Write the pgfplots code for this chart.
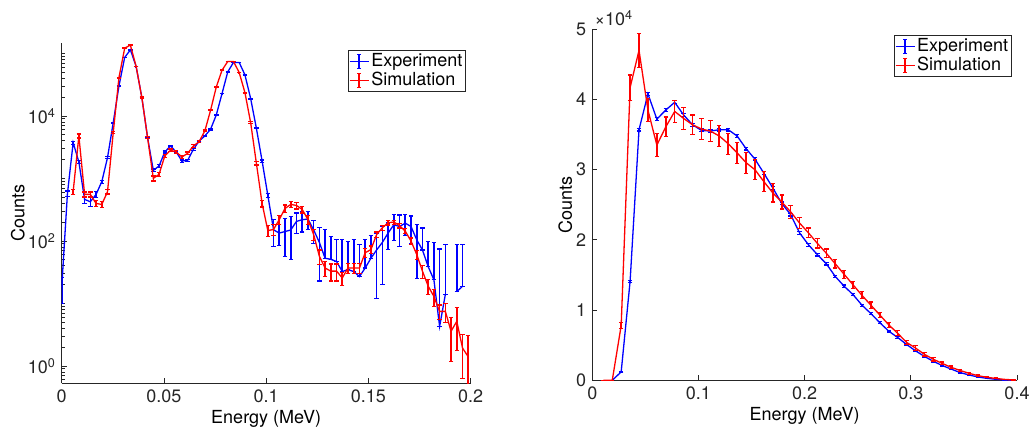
\documentclass[border=0pt]{standalone}
\usepackage{fontspec}
\setmainfont{TeX Gyre Heros}
\usepackage{pgfplots}
\pgfplotsset{compat=1.18}
\usepackage{pgfplotstable}

\pgfplotstableread{
x y ep em
0 18 8 8
0.0028 570 60 60
0.0056 3750 200 200
0.0084 1835 100 100
0.0112 463 60 60
0.014 425 70 70
0.0168 557 60 60
0.0196 889 50 50
0.0224 2154 80 80
0.0252 7830 150 150
0.028 30300 300 300
0.0308 86300 500 500
0.0336 114500 600 600
0.0364 61900 400 400
0.0392 19700 250 250
0.042 4510 120 120
0.0448 1350 70 70
0.0476 1585 70 70
0.0504 2655 90 90
0.0532 3313 100 100
0.056 2655 90 90
0.0588 1905 80 80
0.0616 1954 80 80
0.0644 2930 90 90
0.0672 3985 110 110
0.07 4795 120 120
0.0728 6130 140 140
0.0756 10400 180 180
0.0784 22850 250 250
0.0812 50850 350 350
0.084 71800 450 450
0.0868 71800 450 450
0.0896 45500 350 350
0.0924 19000 230 230
0.0952 6360 140 140
0.098 1905 80 80
0.1008 537 45 45
0.1036 151 70 70
0.1064 134 50 50
0.1092 142 85 85
0.112 150 100 100
0.1148 206 74 74
0.1176 219 80 80
0.1204 225 70 70
0.1232 151 60 60
0.126 95 72 72
0.1288 53 98 0
0.1316 51 67 0
0.1344 47 60 0
0.1372 32.5 72 0
0.14 35 63 0
0.1428 32.5 72 0
0.1456 27 60 0
0.1484 37 68 0
0.1512 53 70 0
0.154 72 60 60
0.1568 95 75 75
0.1596 134 60 60
0.1624 182 80 80
0.1652 171 90 90
0.168 193 70 70
0.1708 171 80 80
0.1736 105 80 80
0.1764 72 90 0
0.1792 39 60 0
0.182 24 70 0
0.1848 4.3 70 0
0.1876 14 75 0
0.1904 nan 0 0
0.1932 15.5 72 0
0.196 18.9 70 0
}\blueL

\pgfplotstableread{
x y ep em
0.0056 614 60 60
0.0084 4795 350 350
0.0112 557 50 50
0.014 557 50 50
0.0168 399 40 40
0.0196 385 40 40
0.0224 614 50 50
0.0252 5420 200 200
0.028 41200 600 600
0.0308 121700 1000 1000
0.0336 136000 1000 1000
0.0364 62000 700 700
0.0392 19700 400 400
0.042 4510 200 200
0.0448 1005 90 90
0.0476 1165 90 90
0.0504 2290 130 130
0.0532 2825 140 140
0.056 2655 140 140
0.0588 2208 130 130
0.0616 2530 130 130
0.0644 3313 150 150
0.0672 3890 160 160
0.07 5770 190 190
0.0728 12360 280 280
0.0756 29200 430 430
0.0784 54000 600 600
0.0812 74500 700 700
0.084 74500 700 700
0.0868 49600 580 580
0.0896 23700 400 400
0.0924 7830 230 230
0.0952 1750 110 110
0.098 399 50 50
0.1008 147 30 30
0.1036 153 30 30
0.1064 221 35 35
0.1092 332 45 45
0.112 385 45 45
0.1148 371 45 45
0.1176 320 40 40
0.1204 221 35 35
0.1232 127 25 25
0.126 57 15 15
0.1288 37 10 10
0.1316 33 10 10
0.1344 33 10 10
0.1372 25.7 6 6
0.14 37 7 7
0.1428 37 7 7
0.1456 37 7 7
0.1484 65 10 10
0.1512 73 10 10
0.154 127 12 12
0.1568 163 15 15
0.1596 196 15 15
0.1624 201 15 15
0.1652 177 15 15
0.168 144 13 13
0.1708 100 12 12
0.1736 61 10 10
0.1764 33 8 8
0.1792 19 5 5
0.182 13 4 4
0.1848 7.5 2 2
0.1876 7.5 2.5 2.5
0.1904 3.6 2.4 2.4
0.1932 5.2 3.4 3.4
0.196 1.94 1.3 1.3
0.1988 1.41 1.7 1.3
}\redL

\pgfplotstableread{
x y e
0.0188 0 0
0.0272 1200 100
0.0356 14100 150
0.044 35700 200
0.0524 40800 200
0.0608 37200 200
0.0692 38500 200
0.0776 39600 200
0.086 37800 200
0.0944 36400 200
0.1028 35600 200
0.1112 35500 200
0.1196 35700 200
0.128 35700 200
0.1364 34800 200
0.1448 33000 200
0.1532 31500 200
0.1616 29500 200
0.17 27400 200
0.1784 25200 200
0.1868 23600 200
0.1952 21000 200
0.2036 19300 200
0.212 17900 200
0.2204 16600 180
0.2288 14800 180
0.2372 13400 170
0.2456 12200 160
0.254 10700 150
0.2624 9500 150
0.2708 8200 140
0.2792 7000 130
0.2876 6100 120
0.296 5100 110
0.3044 4200 100
0.3128 3400 90
0.3212 2700 80
0.3296 2100 70
0.338 1600 60
0.3464 1100 50
0.3548 760 40
0.3632 470 30
0.3716 280 20
0.38 140 15
0.3884 50 10
0.3968 0 0
}\blueR

\pgfplotstableread{
x y e
0.0104 0 0
0.0188 0 0
0.0272 7800 450
0.0356 41700 1800
0.044 47000 2400
0.0524 38500 1600
0.0608 33500 1600
0.0692 36100 1400
0.0776 38300 1600
0.086 37300 1600
0.0944 36400 1400
0.1028 35800 1500
0.1112 35500 1500
0.1196 34800 1500
0.128 33700 1500
0.1364 32400 1500
0.1448 31000 1500
0.1532 30000 1400
0.1616 28300 1400
0.17 26700 1300
0.1784 25400 1000
0.1868 24000 900
0.1952 22400 800
0.2036 21000 700
0.212 19500 650
0.2204 18100 600
0.2288 16600 600
0.2372 15100 550
0.2456 13600 500
0.254 12100 500
0.2624 10700 450
0.2708 9300 400
0.2792 7900 350
0.2876 6700 350
0.296 5400 300
0.3044 4600 300
0.3128 3700 250
0.3212 3000 250
0.3296 2400 200
0.338 1850 180
0.3464 1400 150
0.3548 1000 130
0.3632 660 100
0.3716 430 80
0.38 260 60
0.3884 130 40
0.3968 50 20
}\redR

\definecolor{axgray}{gray}{0.15}
\definecolor{mblue}{RGB}{0,0,255}
\definecolor{mred}{RGB}{255,0,0}

\pgfplotsset{
  mstyle/.style={
    scale only axis,
    axis lines*=left,
    axis line style={axgray, line width=0.9pt},
    tick style={axgray, line width=0.9pt},
    tick align=inside,
    major tick length=5pt,
    minor tick length=3pt,
    ticklabel style={text=axgray},
    label style={text=axgray},
    every axis x label/.style={at={(rel axis cs:0.5,0)}, yshift=-36pt, anchor=center},
    legend cell align=left,
    legend style={draw=axgray, line width=0.9pt, inner sep=1pt, row sep=-1pt, text=black},
    legend image code/.code={
      \draw[#1] (0pt,0pt) -- (19pt,0pt);
      \draw[#1, line width=1.6pt] (9.5pt,-7pt) -- (9.5pt,7pt);
      \draw[#1] (7.5pt,-7pt) -- (11.5pt,-7pt);
      \draw[#1] (7.5pt,7pt) -- (11.5pt,7pt);
    },
  },
  ebars/.style={
    error bars/.cd, y dir=both, y explicit,
    error bar style={line width=1.6pt, draw=#1, color=#1},
    error mark options={rotate=90, mark size=2.2pt, line width=1.2pt, draw=#1, color=#1},
  },
}

\begin{document}
\fontsize{18}{21}\selectfont
\begin{tikzpicture}[x=1pt,y=1pt]
\useasboundingbox (0,0) rectangle (1033,435);

% left panel
\begin{axis}[mstyle,
  at={(61.7pt,51.9pt)}, anchor=south west,
  width=409pt, height=339.7pt,
  ymode=log, xmin=0, xmax=0.2, ymin=0.534, ymax=145000,
  unbounded coords=jump,
  xtick={0,0.05,0.1,0.15,0.2},
  xticklabels={0,0.05,0.1,0.15,0.2},
  scaled x ticks=false,
  ytick={1,100,10000},
  yticklabels={10\textsuperscript{0},10\textsuperscript{2},10\textsuperscript{4}},
  minor ytick={0.6,0.7,0.8,0.9,2,3,4,5,6,7,8,9,10,20,30,40,50,60,70,80,90,200,300,400,500,600,700,800,900,1000,2000,3000,4000,5000,6000,7000,8000,9000,20000,30000,40000,50000,60000,70000,80000,90000,100000},
  xlabel={Energy (MeV)}, ylabel={Counts},
  every axis y label/.style={at={(rel axis cs:0,0.5)}, xshift=-44pt, rotate=90, anchor=center},
  legend style={at={(rel axis cs:0.988,0.98)}, anchor=north east},
]
\addplot[mblue, line width=1.3pt, forget plot, ebars=mblue]
  table[x=x, y=y, y error plus=ep, y error minus=em] {\blueL};
\addplot[mred, line width=1.3pt, forget plot, ebars=mred]
  table[x=x, y=y, y error plus=ep, y error minus=em] {\redL};
\addlegendimage{mblue, line width=1.2pt}
\addlegendentry{Experiment}
\addlegendimage{mred, line width=1.2pt}
\addlegendentry{Simulation}
\end{axis}

% right panel
\begin{axis}[mstyle, name=rax,
  at={(592.3pt,54.7pt)}, anchor=south west,
  width=424.7pt, height=351pt,
  xmin=0, xmax=0.4, ymin=0, ymax=50000,
  xtick={0,0.1,0.2,0.3,0.4},
  xticklabels={0,0.1,0.2,0.3,0.4},
  scaled x ticks=false, scaled y ticks=false,
  ytick={0,10000,20000,30000,40000,50000},
  yticklabels={0,1,2,3,4,5},
  xlabel={Energy (MeV)}, ylabel={Counts},
  every axis y label/.style={at={(rel axis cs:0,0.5)}, xshift=-27pt, rotate=90, anchor=center},
  legend style={at={(rel axis cs:0.9875,0.984)}, anchor=north east},
]
\addplot[mblue, line width=1.3pt, forget plot, ebars=mblue]
  table[x=x, y=y, y error plus=e, y error minus=e] {\blueR};
\addplot[mred, line width=1.3pt, forget plot, ebars=mred]
  table[x=x, y=y, y error plus=e, y error minus=e] {\redR};
\addlegendimage{mblue, line width=1.2pt}
\addlegendentry{Experiment}
\addlegendimage{mred, line width=1.2pt}
\addlegendentry{Simulation}
\end{axis}
\node[anchor=south west, text=axgray, inner sep=0pt] at ([xshift=2pt,yshift=3pt]rax.north west) {×10\textsuperscript{4}};
\end{tikzpicture}
\end{document}
